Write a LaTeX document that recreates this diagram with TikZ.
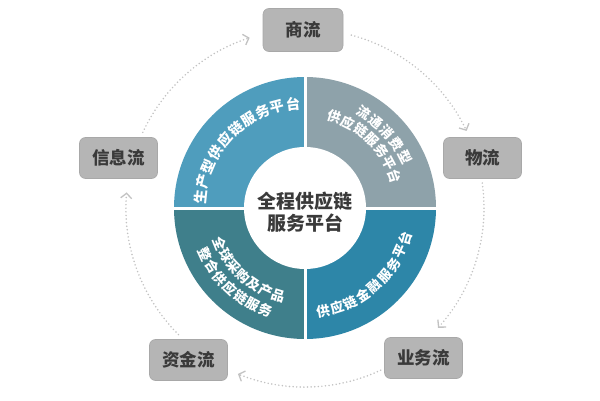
\documentclass[tikz,border=0pt]{standalone}
\usepackage{fontspec}
\setmainfont{Noto Sans CJK SC}
\usetikzlibrary{arrows.meta,calc}
\definecolor{segTL}{HTML}{4F9DBD}
\definecolor{segTR}{HTML}{8EA2AA}
\definecolor{segBL}{HTML}{3F7F8B}
\definecolor{segBR}{HTML}{2D86A8}
\definecolor{boxgray}{HTML}{B5B5B5}
\definecolor{boxedge}{HTML}{A8A8A8}
\definecolor{boxtext}{HTML}{3A3A3A}
\definecolor{dotgray}{HTML}{C2C2C2}
\newcommand\arctext[6]{% #1 name, #2 radius, #3 start angle, #4 step, #5 rotation offset, #6 chars
  \foreach \ch [count=\k from 0] in {#6}{%
    \pgfmathsetmacro\ang{#3+\k*(#4)}%
    \pgfmathsetmacro\rot{\ang+(#5)}%
    \node[ringchar, rotate=\rot] (#1-\k) at ($(O)+(\ang:#2)$) {\ch};
  }}
\begin{document}
\begin{tikzpicture}[x=1pt,y=1pt,
  flowbox/.style={rounded corners=6pt, fill=boxgray, draw=boxedge, line width=0.6pt,
    minimum width=78pt, minimum height=41pt, text=boxtext, inner sep=0pt,
    font=\bfseries\fontsize{17.5}{20}\selectfont},
  ringchar/.style={text=white, inner sep=0pt, font=\bfseries\fontsize{13.5}{14}\selectfont},
  flowline/.style={draw=dotgray, line width=1.7pt, line cap=round, dash pattern=on 0pt off 3.6pt,
    -{Straight Barb[length=5pt,width=11pt,line width=1.3pt]}}]
\useasboundingbox (0,0) rectangle (600,400);
\fill[white] (0,0) rectangle (600,400);
\coordinate (O) at (305,192);
% ring segments
\fill[segTL] (O) -- ++(90:131) arc[start angle=90, end angle=180, radius=131] -- cycle;
\fill[segTR] (O) -- ++(0:131) arc[start angle=0, end angle=90, radius=131] -- cycle;
\fill[segBL] (O) -- ++(180:131) arc[start angle=180, end angle=270, radius=131] -- cycle;
\fill[segBR] (O) -- ++(270:131) arc[start angle=270, end angle=360, radius=131] -- cycle;
\draw[white, line width=3pt] ($(O)+(-133,0)$) -- ($(O)+(133,0)$);
\draw[white, line width=3pt] ($(O)+(0,-133)$) -- ($(O)+(0,133)$);
\fill[white] (O) circle[radius=61];
% center text
\node[text=boxtext, align=center, inner sep=0pt,
  font=\bfseries\fontsize{19}{21.5}\selectfont] (core) at ($(O)+(0,-4)$) {全程供应链\\服务平台};
% ring texts
\begingroup
\tikzset{ringchar/.append style={font=\bfseries\fontsize{14.2}{15}\selectfont}}
\arctext{tl}{105}{174}{-8.6}{-90}{生,产,型,供,应,链,服,务,平,台}
\endgroup
\arctext{tra}{112}{58.5}{-7.9}{-90}{流,通,消,费,型}
\arctext{trb}{95.5}{72}{-8.8}{-90}{供,应,链,服,务,平,台}
\arctext{bla}{92}{202.5}{8.4}{90}{全,球,采,购,及,产,品}
\arctext{blb}{110}{205}{7.3}{90}{整,合,供,应,链,服,务}
\arctext{br}{105}{-80}{7.9}{90}{供,应,链,金,融,服,务,平,台}
% flow boxes
\node[flowbox, minimum width=80pt, minimum height=43pt] (shang) at (303,370) {商流};
\node[flowbox] (wu) at (482.5,242) {物流};
\node[flowbox] (xin) at (118.5,242) {信息流};
\node[flowbox] (zi) at (188.5,40) {资金流};
\node[flowbox] (ye) at (423.5,42) {业务流};
% dotted circular connectors (clockwise)
\draw[flowline] ($(O)+(155:179)$) arc[start angle=155, end angle=108, radius=179];
\draw[flowline] ($(O)+(75:179)$) arc[start angle=75, end angle=25.5, radius=179];
\draw[flowline] ($(O)+(8:179)$) arc[start angle=8, end angle=-42, radius=179];
\draw[flowline] ($(O)+(-65:179)$) arc[start angle=-65, end angle=-112, radius=179];
\draw[flowline] ($(O)+(225:179)$) arc[start angle=225, end angle=175, radius=179];
\end{tikzpicture}
\end{document}
